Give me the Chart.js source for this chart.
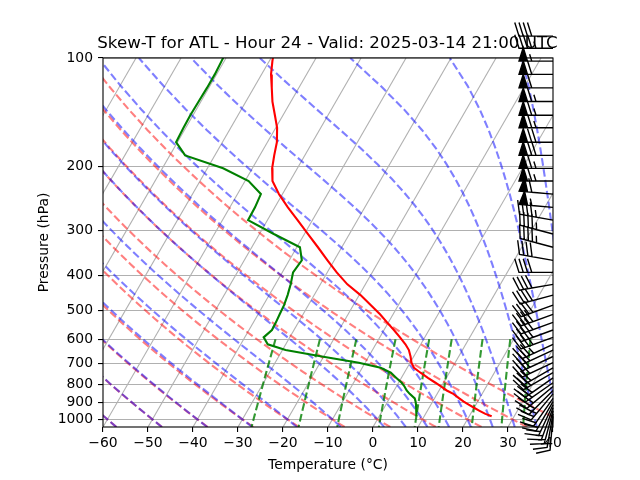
<!DOCTYPE html>
<html>
<head>
<meta charset="utf-8">
<script src="https://cdn.jsdelivr.net/npm/chart.js@4.4.1/dist/chart.umd.min.js"></script>
<style>
  html, body { margin: 0; padding: 0; background: #fff; }
  #wrap { width: 640px; height: 480px; }
</style>
</head>
<body>
<div id="wrap"><canvas id="skewt" width="640" height="480"></canvas></div>
<script>
// sounding levels (hPa)
const pressure = [87, 94, 102, 111, 121, 132, 144, 156, 171, 186,
                  202, 219, 238, 259, 281, 307, 334, 363, 392, 423,
                  453, 483, 512, 539, 566, 593, 620, 643, 670, 697,
                  720, 743, 768, 792, 811, 832, 850, 875, 893, 911,
                  929, 947, 966, 981];
const temperature = [-71.8, -70.5, -69.3, -67.9, -66.0, -64.1, -61.8, -59.7, -57.9, -56.8,
                     -55.6, -53.9, -50.8, -47.1, -43.3, -39.2, -35.3, -31.5, -27.9, -24.0,
                     -19.7, -16.1, -12.9, -10.3, -7.8, -5.5, -3.4, -1.9, -0.7, 0.3,
                     1.5, 3.6, 5.9, 8.2, 9.9, 11.7, 13.6, 15.5, 16.9, 18.4,
                     20.0, 21.6, 23.3, 25.0];
const dewpoint = [-80.9, -80.8, -80.6, -80.4, -80.4, -80.5, -80.6, -80.5, -80.3, -76.6,
                  -66.5, -59.2, -54.8, -54.4, -54.3, -46.8, -39.3, -37.2, -37.6, -36.6,
                  -35.9, -35.4, -35.2, -35.0, -34.9, -35.8, -34.0, -29.3, -20.4, -11.4,
                  -5.9, -3.0, -1.1, 0.7, 1.8, 2.8, 3.9, 5.6, 6.2, 6.7,
                  7.2, 7.6, 7.9, 8.3];
// wind direction (deg, from) and speed (kt)
const windDir = [270, 270, 270, 270, 270, 270, 270, 270, 270, 270,
                 270, 270, 275, 275, 280, 285, 285, 280, 270, 260,
                 255, 250, 250, 250, 250, 250, 245, 245, 245, 245,
                 240, 240, 235, 235, 230, 225, 220, 215, 210, 205,
                 200, 195, 190, 185];
const windSpeed = [40, 45, 55, 60, 60, 65, 65, 65, 70, 70,
                   65, 65, 60, 55, 45, 45, 45, 40, 40, 40,
                   40, 40, 40, 40, 35, 35, 35, 30, 30, 30,
                   30, 30, 30, 30, 25, 25, 25, 20, 20, 20,
                   15, 15, 15, 10];

const pTicks = [100, 200, 300, 400, 500, 600, 700, 800, 900, 1000];

// background reference lines
const isotherms = [-100, -90, -80, -70, -60, -50, -40, -30, -20, -10, 0, 10, 20, 30, 40];
const dryT0 = [-60, -50, -40, -30, -20, -10, 0, 10, 20, 30, 40];
const moistT0 = [-60, -50, -40, -30, -20, -10, 0, 5, 10, 15, 20, 25, 30, 35, 40,
                 45, 50, 55, 60, 65, 70, 75, 80, 85, 90];
const mixingRatios = [0.0004, 0.001, 0.002, 0.004, 0.007, 0.01, 0.016, 0.024, 0.032];

const P_BOTTOM = 1050, P_TOP = 100, T_MIN = -60, T_MAX = 40;
const PLOT_W = 450, PLOT_H = 369;
// skew of 30 degrees on screen, expressed in degC per decade of pressure
const SKEW = Math.tan(Math.PI / 6) * (PLOT_H / Math.log10(P_BOTTOM / P_TOP)) / (PLOT_W / (T_MAX - T_MIN));

function skewX(t, p) {
    return t + SKEW * Math.log10(P_BOTTOM / p);
}

function linspace(a, b, n) {
    const out = [];
    for (let i = 0; i < n; i++) out.push(a + (b - a) * i / (n - 1));
    return out;
}

const Rd = 287.04749, Lv = 2.50084e6, Cpd = 1004.6662, EPS = 0.62196;

function satVap(tK) {
    return 6.112 * Math.exp(17.67 * (tK - 273.15) / (tK - 29.65));
}

function dTdp(p, t) {
    const es = satVap(t);
    const rs = EPS * es / Math.max(p - es, 1e-3);
    const frac = (Rd * t + Lv * rs) / (Cpd + (Lv * Lv * rs * EPS) / (Rd * t * t));
    return frac / p;
}

function moistTemp(t0, p) {
    let t = t0 + 273.15, pc = 1000;
    const n = Math.max(1, Math.ceil(Math.abs(p - 1000) / 2));
    const h = (p - 1000) / n;
    for (let k = 0; k < n; k++) {
        const k1 = dTdp(pc, t);
        const k2 = dTdp(pc + h / 2, t + h * k1 / 2);
        const k3 = dTdp(pc + h / 2, t + h * k2 / 2);
        const k4 = dTdp(pc + h, t + h * k3);
        t += h * (k1 + 2 * k2 + 2 * k3 + k4) / 6;
        pc += h;
    }
    return t - 273.15;
}

function dewFromMixing(w, p) {
    const e = p * w / (EPS + w);
    const val = Math.log(e / 6.112);
    return 243.5 * val / (17.67 - val);
}

function lineSet(points, color, width, dash) {
    return {
        data: points,
        showLine: true,
        borderColor: color,
        borderWidth: width,
        borderDash: dash || [],
        pointRadius: 0,
        fill: false,
        tension: 0
    };
}

const DASH = [7.7, 3.3];
const adiabatP = linspace(P_BOTTOM, P_TOP, 50);
const mixingP = linspace(600, P_BOTTOM, 50);

const datasets = [];

datasets.push(lineSet(pressure.map((p, i) => ({ x: skewX(temperature[i], p), y: p })), '#ff0000', 2.1));
datasets.push(lineSet(pressure.map((p, i) => ({ x: skewX(dewpoint[i], p), y: p })), '#008000', 2.1));

mixingRatios.forEach(w => {
    datasets.push(lineSet(mixingP.map(p => ({ x: skewX(dewFromMixing(w, p), p), y: p })), 'rgba(0,128,0,0.8)', 2.1, DASH));
});

moistT0.forEach(t0 => {
    datasets.push(lineSet(adiabatP.map(p => ({ x: skewX(moistTemp(t0, p), p), y: p })), 'rgba(0,0,255,0.5)', 2.1, DASH));
});

dryT0.forEach(t0 => {
    datasets.push(lineSet(adiabatP.map(p => ({ x: skewX((t0 + 273.15) * Math.pow(p / 1000, 0.2857) - 273.15, p), y: p })), 'rgba(255,0,0,0.5)', 2.1, DASH));
});

isotherms.forEach(t => {
    datasets.push(lineSet([{ x: skewX(t, P_BOTTOM), y: P_BOTTOM }, { x: skewX(t, P_TOP), y: P_TOP }], '#b0b0b0', 1.1));
});

// axes frame
const framePlugin = {
    id: 'frame',
    afterDatasetsDraw(chart) {
        const { ctx, chartArea } = chart;
        ctx.save();
        ctx.strokeStyle = '#000';
        ctx.lineWidth = 1.1;
        ctx.strokeRect(chartArea.left, chartArea.top, chartArea.right - chartArea.left, chartArea.bottom - chartArea.top);
        ctx.restore();
    }
};

// wind barbs along the right edge, same geometry as matplotlib barbs
const barbPlugin = {
    id: 'barbs',
    afterDraw(chart) {
        const { ctx, chartArea, scales } = chart;
        const L = 34, spacing = 0.125 * L, height = 0.4 * L, width = 0.25 * L;
        ctx.save();
        ctx.fillStyle = '#000';
        ctx.strokeStyle = '#000';
        ctx.lineWidth = 1.4;
        pressure.forEach((p, i) => {
            const x0 = chartArea.right;
            const y0 = scales.y.getPixelForValue(p);
            const rad = windDir[i] * Math.PI / 180;
            const u = -windSpeed[i] * Math.sin(rad);
            const v = -windSpeed[i] * Math.cos(rad);
            let mag = 5 * Math.round(windSpeed[i] / 5);
            const nflags = Math.floor(mag / 50); mag -= nflags * 50;
            const nbarbs = Math.floor(mag / 10); mag -= nbarbs * 10;
            const half = mag >= 5;

            const verts = [[0, 0]];
            let offset = L;
            for (let k = 0; k < nflags; k++) {
                if (offset !== L) offset += spacing / 2;
                verts.push([0, offset], [height, offset - width / 2], [0, offset - width]);
                offset -= width + spacing;
            }
            for (let k = 0; k < nbarbs; k++) {
                verts.push([0, offset], [height, offset + width / 2], [0, offset]);
                offset -= spacing;
            }
            if (half) {
                if (offset === L) {
                    verts.push([0, offset]);
                    offset -= 1.5 * spacing;
                }
                verts.push([0, offset], [height / 2, offset + width / 4], [0, offset]);
            }

            const rot = Math.atan2(v, u) + Math.PI / 2;
            const c = Math.cos(rot), s = Math.sin(rot);
            ctx.beginPath();
            verts.forEach(([a, b], j) => {
                const px = x0 + (a * c - b * s);
                const py = y0 - (a * s + b * c);
                if (j === 0) ctx.moveTo(px, py); else ctx.lineTo(px, py);
            });
            ctx.closePath();
            ctx.fill();
            ctx.stroke();
        });
        ctx.restore();
    }
};

const tickFont = { family: 'DejaVu Sans', size: 13.9 };

new Chart(document.getElementById('skewt'), {
    type: 'scatter',
    data: { datasets: datasets },
    plugins: [framePlugin, barbPlugin],
    options: {
        responsive: false,
        animation: false,
        devicePixelRatio: 1,
        // left padding keeps the full-width title centred over the plot
        layout: { padding: { left: 15, right: 0, top: 0, bottom: 0 } },
        plugins: {
            legend: { display: false },
            tooltip: { enabled: false },
            title: {
                display: true,
                text: 'Skew-T for ATL - Hour 24 - Valid: 2025-03-14 21:00 UTC',
                color: '#000',
                font: { family: 'DejaVu Sans', size: 16.67, weight: 'normal' },
                padding: { top: 33.8, bottom: 4.2 }
            }
        },
        scales: {
            x: {
                type: 'linear',
                min: T_MIN,
                max: T_MAX,
                afterFit: s => { s.height = 53; },
                ticks: {
                    stepSize: 10,
                    autoSkip: false,
                    maxRotation: 0,
                    color: '#000',
                    font: tickFont,
                    padding: 3,
                    callback: v => (v < 0 ? '\u2212' + Math.abs(v) : String(v))
                },
                grid: { drawOnChartArea: false, tickLength: 5, tickColor: '#000', lineWidth: 1.1 },
                border: { display: false },
                title: {
                    display: true,
                    text: 'Temperature (°C)',
                    color: '#000',
                    font: tickFont,
                    padding: { top: 0, bottom: 6.5 }
                }
            },
            y: {
                type: 'logarithmic',
                reverse: true,
                min: P_TOP,
                max: P_BOTTOM,
                afterFit: s => { s.width = 88; },
                afterBuildTicks: s => { s.ticks = pTicks.map(v => ({ value: v })); },
                ticks: {
                    autoSkip: false,
                    color: '#000',
                    font: tickFont,
                    padding: 5,
                    callback: v => String(v)
                },
                grid: { color: '#b0b0b0', lineWidth: 1.1, tickColor: '#000', tickLength: 5 },
                border: { display: false },
                title: {
                    display: true,
                    text: 'Pressure (hPa)',
                    color: '#000',
                    font: tickFont,
                    padding: { top: 21, bottom: 0 }
                }
            },
            // empty right-hand axis reserving room for the wind barbs
            yBarbs: {
                type: 'linear',
                position: 'right',
                display: true,
                afterFit: s => { s.width = 87; },
                ticks: { display: false },
                grid: { display: false },
                border: { display: false }
            }
        }
    }
});
</script>
</body>
</html>
